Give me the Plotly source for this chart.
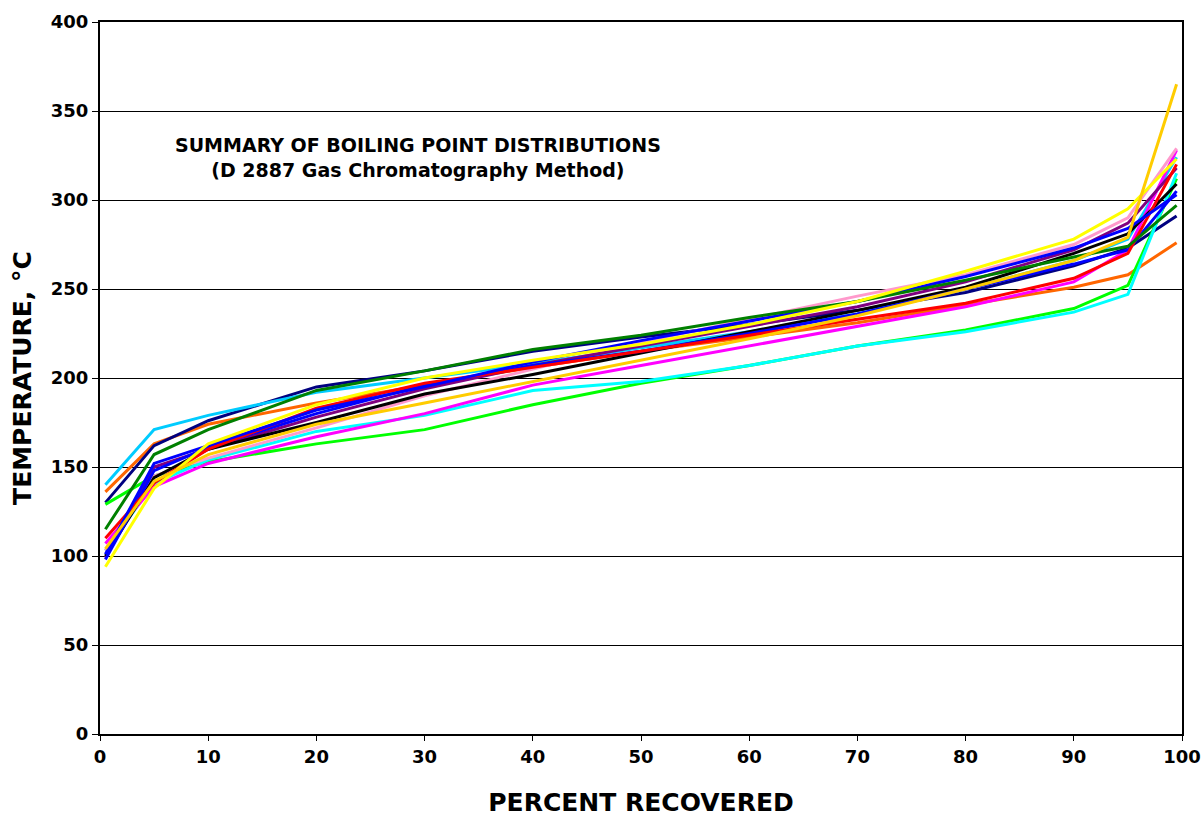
import plotly.graph_objects as go

# Percent recovered at which each distillation temperature is reported
percent_recovered = [0.5, 5, 10, 20, 30, 40, 50, 60, 70, 80, 90, 95, 99.5]

# Boiling point distributions (°C), one list per sample
sky_blue = [140, 171, 179, 192, 200, 208, 217, 226, 236, 250, 266, 278, 324]
orange = [136, 163, 174, 186, 196, 206, 215, 223, 231, 241, 251, 258, 276]
navy = [130, 162, 176, 195, 204, 215, 223, 230, 238, 248, 263, 273, 291]
lime = [129, 145, 153, 163, 171, 185, 197, 207, 218, 227, 239, 252, 312]
dark_green = [115, 157, 171, 193, 204, 216, 224, 234, 243, 255, 268, 274, 297]
cyan = [103, 141, 154, 170, 179, 193, 198, 207, 218, 226, 237, 247, 315]
red = [110, 141, 160, 183, 197, 206, 215, 224, 233, 242, 256, 270, 320]
magenta = [107, 139, 152, 167, 180, 196, 207, 218, 229, 240, 254, 272, 328]
black = [100, 144, 160, 175, 191, 202, 214, 226, 238, 251, 270, 281, 309]
yellow = [94, 138, 163, 185, 200, 210, 219, 230, 243, 260, 278, 295, 323]
gold = [104, 142, 157, 174, 186, 198, 210, 222, 235, 250, 266, 279, 365]
purple = [99, 150, 160, 178, 194, 207, 218, 229, 240, 254, 272, 287, 318]
pink = [103, 145, 155, 172, 190, 205, 220, 233, 246, 258, 275, 290, 329]
blue_a = [101, 152, 162, 182, 195, 209, 221, 232, 243, 257, 273, 284, 303]
blue_b = [98, 148, 161, 180, 196, 207, 215, 225, 236, 250, 264, 272, 305]

series = [
    (orange, "#FF6600"),
    (navy, "#000080"),
    (sky_blue, "#00CCFF"),
    (lime, "#00FF00"),
    (cyan, "#00FFFF"),
    (magenta, "#FF00FF"),
    (pink, "#FF99CC"),
    (purple, "#800080"),
    (black, "#000000"),
    (blue_b, "#0000FF"),
    (red, "#FF0000"),
    (blue_a, "#0000FF"),
    (dark_green, "#008000"),
    (yellow, "#FFFF00"),
    (gold, "#FFCC00"),
]

fig = go.Figure()
for values, color in series:
    fig.add_trace(go.Scatter(
        x=percent_recovered, y=values, mode="lines",
        line=dict(color=color, width=3), showlegend=False,
        hoverinfo="x+y",
    ))

font_family = "DejaVu Sans, Verdana, sans-serif"

fig.update_layout(
    width=1203, height=817,
    margin=dict(l=100, r=21, t=22, b=83),
    paper_bgcolor="white", plot_bgcolor="white",
    font=dict(family=font_family, color="black"),
    xaxis=dict(
        range=[0, 100], tickvals=list(range(0, 101, 10)),
        showgrid=False, zeroline=False, automargin=False,
        showline=True, linecolor="black", linewidth=2, mirror=True,
        ticks="outside", ticklen=5, tickcolor="black",
        tickfont=dict(size=18, family=font_family, weight="bold"),
        title=dict(text="<b>PERCENT RECOVERED</b>", font=dict(size=25), standoff=28),
    ),
    yaxis=dict(
        range=[0, 400], tickvals=list(range(0, 401, 50)),
        showgrid=True, gridcolor="black", gridwidth=1, zeroline=False, automargin=False,
        showline=True, linecolor="black", linewidth=2, mirror=True,
        ticks="outside", ticklen=6, tickcolor="black",
        tickfont=dict(size=18, family=font_family, weight="bold"),
        title=dict(text="<b>TEMPERATURE, °C</b>", font=dict(size=25), standoff=12),
    ),
    annotations=[
        dict(
            text="<b>SUMMARY OF BOILING POINT DISTRIBUTIONS<br>(D 2887 Gas Chromatography Method)</b>",
            x=(418 - 100) / (1203 - 100 - 21), y=(734 - 157) / (817 - 22 - 83),
            xref="paper", yref="paper", xanchor="center", yanchor="middle",
            showarrow=False, align="center",
            font=dict(size=19, family=font_family),
        )
    ],
)

fig.write_html("out.html")
